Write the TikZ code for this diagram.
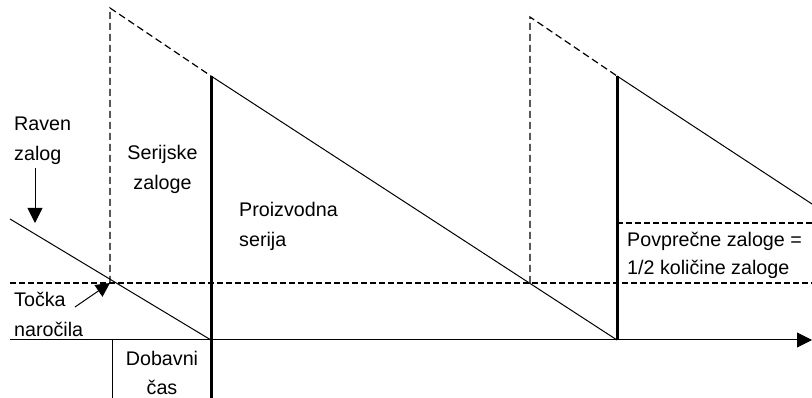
\documentclass[tikz,border=0pt]{standalone}
\usepackage{fontspec}
\setmainfont{Liberation Sans}
\usetikzlibrary{arrows.meta}
\begin{document}
\begin{tikzpicture}[x=1pt,y=-1pt,
  lbl/.style={font=\fontsize{19.7}{23}\selectfont, inner sep=0pt},
  thinln/.style={line width=1pt},
  thickln/.style={line width=3pt},
  dashln/.style={line width=1.2pt, dash pattern=on 7pt off 4pt},
  reorderln/.style={line width=2pt, dash pattern=on 6pt off 3pt},
  bigtip/.style={-{Triangle[length=15pt,width=15pt]}},
  smalltip/.style={-{Triangle[length=14pt,width=14pt]}}]
\useasboundingbox (0,0) rectangle (812,398);
% coordinates
\coordinate (axL) at (10,340);
\coordinate (axR) at (812,340);
\coordinate (s1) at (10,219);
\coordinate (b1) at (211,340);
\coordinate (p1) at (110,8);
\coordinate (d1) at (110,283);
\coordinate (t1) at (211,76);
\coordinate (tb1) at (211,398);
\coordinate (b2) at (617,340);
\coordinate (p2) at (530,17);
\coordinate (d2) at (530,283);
\coordinate (t2) at (617,76);
\coordinate (e2) at (812,204);
\coordinate (rL) at (10,283);
\coordinate (rR) at (812,283);
\coordinate (aL) at (617,223);
\coordinate (aR) at (812,223);
\coordinate (lt) at (112,340);
\coordinate (ltb) at (112,398);
\coordinate (ra1) at (35,168);
\coordinate (ra2) at (35,223);
\coordinate (ta1) at (75,307);
\coordinate (ta2) at (110,283);
% dashed reorder and average lines
\draw[reorderln] (rL) -- (rR);
\draw[reorderln] (aL) -- (aR);
% dashed production ramps
\draw[dashln] (d1) -- (p1) -- (t1);
\draw[dashln] (d2) -- (p2) -- (t2);
% consumption lines
\draw[thinln] (s1) -- (b1);
\draw[thinln] (t1) -- (b2);
\draw[thinln] (t2) -- (e2);
% vertical lines
\draw[thickln] (t1) -- (tb1);
\draw[thickln] (t2) -- (b2);
\draw[thinln] (lt) -- (ltb);
% axis
\draw[thinln, bigtip] (axL) -- (axR);
% pointer arrows
\draw[thinln, bigtip] (ra1) -- (ra2);
\draw[thinln, smalltip] (ta1) -- (ta2);
% labels
\node[lbl, anchor=base west] (raven1) at (14,131) {Raven};
\node[lbl, anchor=base west] (raven2) at (14,161) {zalog};
\node[lbl, anchor=base] (ser1) at (162.5,160) {Serijske};
\node[lbl, anchor=base] (ser2) at (162.5,190) {zaloge};
\node[lbl, anchor=base west] (toc1) at (14,307) {Točka};
\node[lbl, anchor=base west] (toc2) at (14,337) {naročila};
\node[lbl, anchor=base] (dob1) at (162,366) {Dobavni};
\node[lbl, anchor=base] (dob2) at (162,395) {čas};
\node[lbl, anchor=base west] (pro1) at (239,217) {Proizvodna};
\node[lbl, anchor=base west] (pro2) at (239,247) {serija};
\node[lbl, anchor=base west] (avg1) at (627,247) {Povprečne zaloge =};
\node[lbl, anchor=base west] (avg2) at (627,275) {1/2 količine zaloge};
\end{tikzpicture}
\end{document}
